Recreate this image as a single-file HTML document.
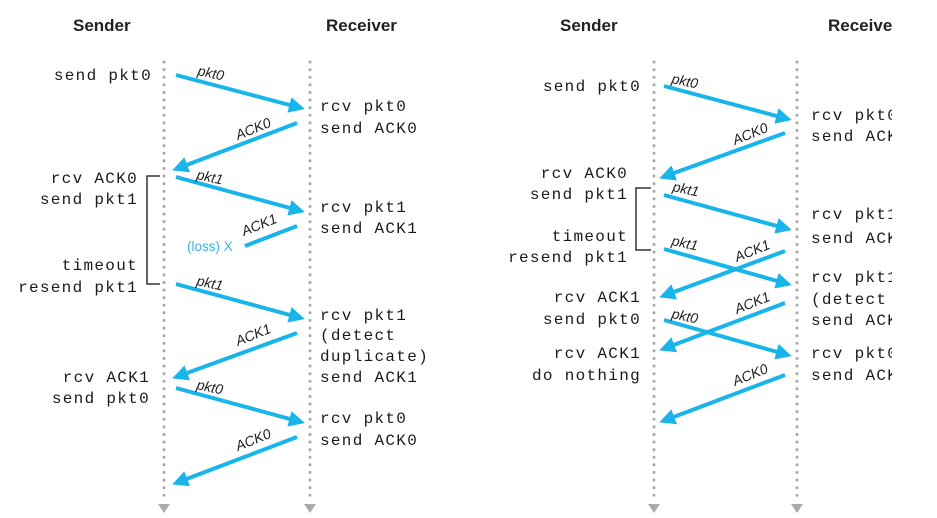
<!DOCTYPE html>
<html><head><style>
body{margin:0;background:#fff}
svg{display:block}
.m{font-family:"Liberation Mono",monospace;font-size:16px;letter-spacing:1.3px;fill:#1a1a1a}
.h{font-family:"Liberation Sans",sans-serif;font-weight:bold;font-size:17px;fill:#222}
.l{font-family:"Liberation Sans",sans-serif;font-style:italic;font-size:14px;fill:#222}
.a{stroke:#19b5ea;stroke-width:4;marker-end:url(#ar)}
.d{stroke:#aaa;stroke-width:3;stroke-dasharray:0.1 7.5;stroke-linecap:round}
</style></head><body>
<svg width="937" height="518" viewBox="0 0 937 518">
<defs>
<marker id="ar" markerWidth="4" markerHeight="4" refX="3" refY="2" orient="auto" markerUnits="strokeWidth"><path d="M0,0 L4,2 L0,4 Z" fill="#19b5ea"/></marker>
<clipPath id="cp"><rect x="0" y="0" width="892" height="518"/></clipPath>
</defs>
<g class="d"><line x1="164" y1="62" x2="164" y2="498"/><line x1="310" y1="62" x2="310" y2="498"/><line x1="654" y1="62" x2="654" y2="498"/><line x1="797" y1="62" x2="797" y2="498"/></g>
<g fill="#aaa"><path d="M158,504h12l-6,9z"/><path d="M304,504h12l-6,9z"/><path d="M648,504h12l-6,9z"/><path d="M791,504h12l-6,9z"/></g>
<text class="h" x="73" y="31">Sender</text><text class="h" x="326" y="31">Receiver</text>
<text class="h" x="560" y="31">Sender</text>
<g clip-path="url(#cp)"><text class="h" x="828" y="31">Receiver</text></g>
<g class="m" text-anchor="end">
<text x="152" y="80">send pkt0</text>
<text x="138" y="183">rcv ACK0</text><text x="138" y="204">send pkt1</text>
<text x="138" y="270">timeout</text><text x="138" y="292">resend pkt1</text>
<text x="150" y="382">rcv ACK1</text><text x="150" y="403">send pkt0</text>
<text x="641" y="91">send pkt0</text>
<text x="628" y="178">rcv ACK0</text><text x="628" y="199">send pkt1</text>
<text x="628" y="241">timeout</text><text x="628" y="262">resend pkt1</text>
<text x="641" y="302">rcv ACK1</text><text x="641" y="324">send pkt0</text>
<text x="641" y="358">rcv ACK1</text><text x="641" y="380">do nothing</text>
</g>
<g class="m">
<text x="320" y="111">rcv pkt0</text><text x="320" y="133">send ACK0</text>
<text x="320" y="212">rcv pkt1</text><text x="320" y="233">send ACK1</text>
<text x="320" y="320">rcv pkt1</text><text x="320" y="340">(detect</text><text x="320" y="361">duplicate)</text><text x="320" y="382">send ACK1</text>
<text x="320" y="423">rcv pkt0</text><text x="320" y="445">send ACK0</text>
</g>
<g class="m" clip-path="url(#cp)">
<text x="811" y="120">rcv pkt0</text><text x="811" y="141">send ACK0</text>
<text x="811" y="219">rcv pkt1</text><text x="811" y="243">send ACK1</text>
<text x="811" y="282">rcv pkt1</text><text x="811" y="304">(detect duplicate)</text><text x="811" y="325">send ACK1</text>
<text x="811" y="358">rcv pkt0</text><text x="811" y="380">send ACK0</text>
</g>
<g fill="none" stroke="#333" stroke-width="1.5">
<path d="M160,176H147V284H160"/><path d="M651,188H636V250H651"/>
</g>
<g>
<line class="a" x1="176" y1="75" x2="301" y2="108"/>
<line class="a" x1="297" y1="123" x2="176" y2="169"/>
<line class="a" x1="176" y1="177" x2="301" y2="211"/>
<line stroke="#19b5ea" stroke-width="4" x1="297" y1="226" x2="245" y2="246"/>
<line class="a" x1="176" y1="284" x2="301" y2="318"/>
<line class="a" x1="297" y1="333" x2="176" y2="377"/>
<line class="a" x1="176" y1="388" x2="301" y2="422"/>
<line class="a" x1="297" y1="437" x2="176" y2="483"/>
<line class="a" x1="664" y1="86" x2="788" y2="119"/>
<line class="a" x1="785" y1="133" x2="663" y2="177"/>
<line class="a" x1="664" y1="195" x2="788" y2="229"/>
<line class="a" x1="664" y1="249" x2="788" y2="284"/>
<line class="a" x1="785" y1="251" x2="663" y2="296"/>
<line class="a" x1="785" y1="303" x2="663" y2="349"/>
<line class="a" x1="664" y1="320" x2="788" y2="355"/>
<line class="a" x1="785" y1="375" x2="663" y2="421"/>
</g>
<text x="187" y="251" font-family="Liberation Sans,sans-serif" font-size="13.5" fill="#3ab0ea">(loss) X</text>
<g class="l">
<text transform="translate(197,75) rotate(12)">pkt0</text>
<text transform="translate(238,140) rotate(-22)">ACK0</text>
<text transform="translate(196,179) rotate(12)">pkt1</text>
<text transform="translate(244,236) rotate(-22)">ACK1</text>
<text transform="translate(196,285) rotate(12)">pkt1</text>
<text transform="translate(238,346) rotate(-22)">ACK1</text>
<text transform="translate(196,389) rotate(12)">pkt0</text>
<text transform="translate(238,451) rotate(-22)">ACK0</text>
<text transform="translate(671,83) rotate(12)">pkt0</text>
<text transform="translate(735,145) rotate(-22)">ACK0</text>
<text transform="translate(672,191) rotate(12)">pkt1</text>
<text transform="translate(671,245) rotate(12)">pkt1</text>
<text transform="translate(737,262) rotate(-22)">ACK1</text>
<text transform="translate(737,314) rotate(-22)">ACK1</text>
<text transform="translate(671,318) rotate(12)">pkt0</text>
<text transform="translate(735,386) rotate(-22)">ACK0</text>
</g>
</svg>
</body></html>
